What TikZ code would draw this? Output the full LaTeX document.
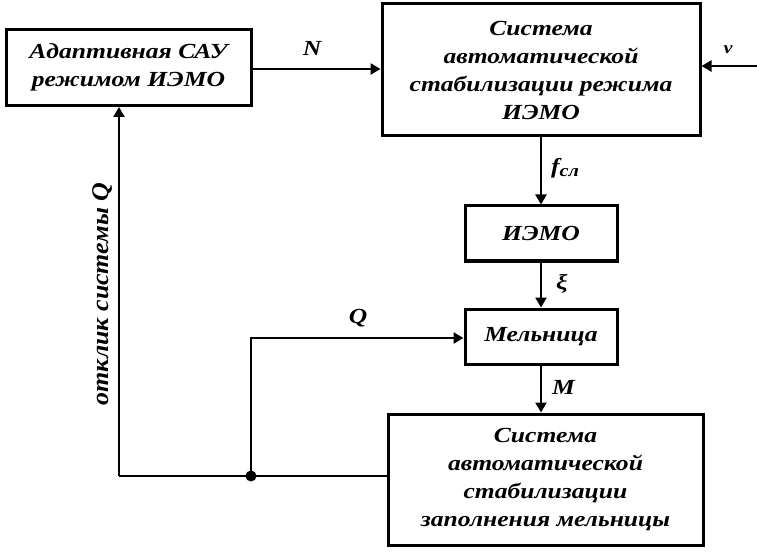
\documentclass[tikz,border=0pt]{standalone}
\usepackage{fontspec}
\setmainfont{Liberation Serif}[FakeStretch=1.19]
\newfontfamily\rotfont{Liberation Serif}[FakeStretch=1.08]
\usetikzlibrary{arrows.meta}
\tikzset{
  blk/.style={draw, line width=3pt, minimum width=#1, inner sep=0pt, align=center,
    font=\fontsize{21.5}{28}\selectfont\bfseries\itshape},
  lbl/.style={font=\fontsize{21.5}{25}\selectfont\bfseries\itshape, inner sep=0pt},
  conn/.style={line width=2.6pt, -{Triangle[length=10pt,width=11pt]}},
  wire/.style={line width=2.6pt},
}
\begin{document}
\begin{tikzpicture}[x=1pt,y=-1pt]
\useasboundingbox (0,0) rectangle (757,553);
\node[blk=245pt, minimum height=76pt] (A) at (128.5,67.5) {Адаптивная САУ\\режимом ИЭМО};
\node[blk=318pt, minimum height=132pt] (B) at (541,70) {Система\\автоматической\\стабилизации режима\\ИЭМО};
\node[blk=152pt, minimum height=55pt] (I) at (541,233.5) {ИЭМО};
\node[blk=152pt, minimum height=55pt] (M) at (541,336.5) {Мельница};
\node[blk=315pt, minimum height=131pt] (S) at (545.5,479.5) {Система\\автоматической\\стабилизации\\заполнения мельницы};
\coordinate (vin) at (757,66);
\coordinate (j) at (251,476);
\coordinate (c) at (119,476);
\coordinate (q) at (251,338);
\draw[conn] (A.east |- 0,69) -- (B.west |- 0,69);
\draw[conn] (vin) -- (vin -| B.east);
\draw[conn] (B.south) -- (I.north);
\draw[conn] (I.south) -- (M.north);
\draw[conn] (M.south) -- (M.south |- S.north);
\draw[wire] (S.west |- j) -- (j) -- (c);
\draw[conn] (c) -- (c |- A.south);
\draw[conn] (j) -- (q) -- (q -| M.west);
\fill (j) circle (5.5pt);
\node[lbl] (lN) at (312,48) {N};
\node[lbl, font=\fontsize{17}{20}\selectfont\bfseries\itshape] (lv) at (728,50) {v};
\node[lbl, anchor=west] (lf) at (551,168) {f\raisebox{-3pt}{\fontsize{17}{18}\selectfont сл}};
\node[lbl, anchor=west] (lx) at (556,284) {ξ};
\node[lbl, anchor=west] (lM) at (552,387) {M};
\node[lbl] (lQ) at (358,318) {Q};
\node[lbl, rotate=90, font=\rotfont\fontsize{24}{28}\selectfont\bfseries\itshape] (lr) at (102,294) {отклик системы Q};
\end{tikzpicture}
\end{document}
